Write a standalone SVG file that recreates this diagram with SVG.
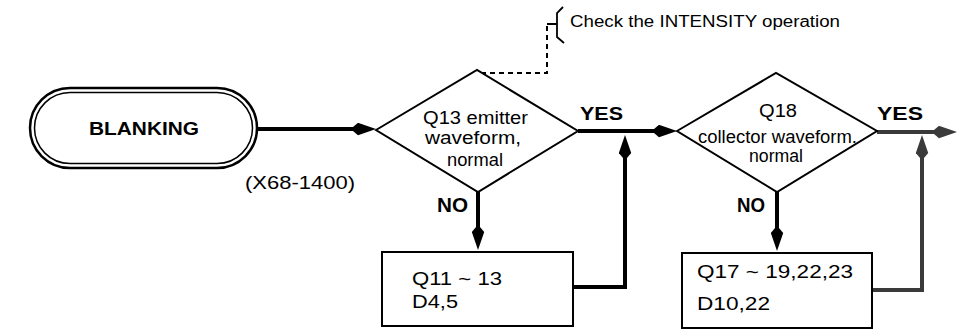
<svg xmlns="http://www.w3.org/2000/svg" width="958" height="331" viewBox="0 0 958 331">
<style>
text{font-family:"Liberation Sans",Arial,sans-serif;fill:#000}
.b{font-weight:bold}
.d{font-size:17.5px}
.bx{font-size:19px}
.shape{fill:#fff;stroke:#000;stroke-width:2}
.flow{fill:none;stroke:#000;stroke-width:4}
.grey{stroke:#3a3a3a}
.dash{fill:none;stroke:#000;stroke-width:2;stroke-dasharray:5 4}
</style>
<defs>
<marker id="ah" markerUnits="userSpaceOnUse" markerWidth="24" markerHeight="13" viewBox="0 0 24 13" refX="6" refY="6.5" orient="auto">
<path d="M0,4.5 L5,0.3 L23,6.5 L5,12.7 L0,8.5 Z" fill="#000"/>
</marker>
<marker id="ahg" markerUnits="userSpaceOnUse" markerWidth="24" markerHeight="13" viewBox="0 0 24 13" refX="6" refY="6.5" orient="auto">
<path d="M0,4.5 L5,0.3 L23,6.5 L5,12.7 L0,8.5 Z" fill="#3a3a3a"/>
</marker>
</defs>

<g id="connectors">
<path class="flow" d="M257,129 H359" marker-end="url(#ah)"/>
<path class="flow" d="M578,131 H660" marker-end="url(#ah)"/>
<path class="flow grey" d="M877,132 H940" marker-end="url(#ahg)"/>
<path class="flow" d="M478,192 V233" marker-end="url(#ah)"/>
<path class="flow" d="M573,287 H625 V152" marker-end="url(#ah)"/>
<path class="flow" d="M777,192 V234" marker-end="url(#ah)"/>
<path class="flow grey" d="M872,290 H922 V152" marker-end="url(#ahg)"/>
<path class="dash" d="M481,73 H547 V24"/>
<path d="M547,24 H557" fill="none" stroke="#000" stroke-width="2"/>
<text class="b" x="580" y="120" textLength="43" lengthAdjust="spacingAndGlyphs" style="font-size:19px">YES</text>
<text class="b" x="877" y="120" textLength="46" lengthAdjust="spacingAndGlyphs" style="font-size:19px">YES</text>
<text class="b" x="437" y="212" textLength="31" lengthAdjust="spacingAndGlyphs" style="font-size:20px">NO</text>
<text class="b" x="737" y="212" textLength="28" lengthAdjust="spacingAndGlyphs" style="font-size:20px">NO</text>
</g>

<g id="blanking">
<rect x="30" y="88" width="227" height="80" rx="40" ry="40" fill="#fff" stroke="#000" stroke-width="2.5"/>
<rect x="34.5" y="92.5" width="218" height="71" rx="35.5" ry="35.5" fill="none" stroke="#000" stroke-width="1.5"/>
<text class="b" x="89" y="135" textLength="110" lengthAdjust="spacingAndGlyphs" style="font-size:18.5px">BLANKING</text>
</g>

<g id="ref-label">
<text x="245" y="189" textLength="110" lengthAdjust="spacingAndGlyphs" style="font-size:19px">(X68-1400)</text>
</g>

<g id="note">
<path d="M563,7 L557,13 V37 L564,43" fill="none" stroke="#000" stroke-width="1.8"/>
<text x="570" y="27" textLength="270" lengthAdjust="spacingAndGlyphs" style="font-size:16px">Check the INTENSITY operation</text>
</g>

<g id="q13">
<polygon class="shape" points="376,130 477,70 578,131 478,192"/>
<text class="d" x="423" y="124" textLength="105" lengthAdjust="spacingAndGlyphs">Q13 emitter</text>
<text class="d" x="425" y="144" textLength="96" lengthAdjust="spacingAndGlyphs">waveform,</text>
<text class="d" x="447" y="166" textLength="56" lengthAdjust="spacingAndGlyphs">normal</text>
</g>

<g id="q18">
<polygon class="shape" points="677,131 776,73 877,131 777,192"/>
<text class="d" x="759" y="117" textLength="38" lengthAdjust="spacingAndGlyphs">Q18</text>
<text class="d" x="698" y="143" textLength="159" lengthAdjust="spacingAndGlyphs">collector waveform.</text>
<text class="d" x="749" y="162" textLength="54" lengthAdjust="spacingAndGlyphs">normal</text>
</g>

<g id="box1">
<rect class="shape" x="382" y="252" width="191" height="74"/>
<text class="bx" x="412" y="285" textLength="90" lengthAdjust="spacingAndGlyphs">Q11 ~ 13</text>
<text class="bx" x="412" y="308" textLength="46" lengthAdjust="spacingAndGlyphs">D4,5</text>
</g>

<g id="box2">
<rect class="shape" x="682" y="253" width="190" height="75"/>
<text class="bx" x="697" y="278" textLength="156" lengthAdjust="spacingAndGlyphs">Q17 ~ 19,22,23</text>
<text class="bx" x="697" y="310" textLength="73" lengthAdjust="spacingAndGlyphs">D10,22</text>
</g>
</svg>
